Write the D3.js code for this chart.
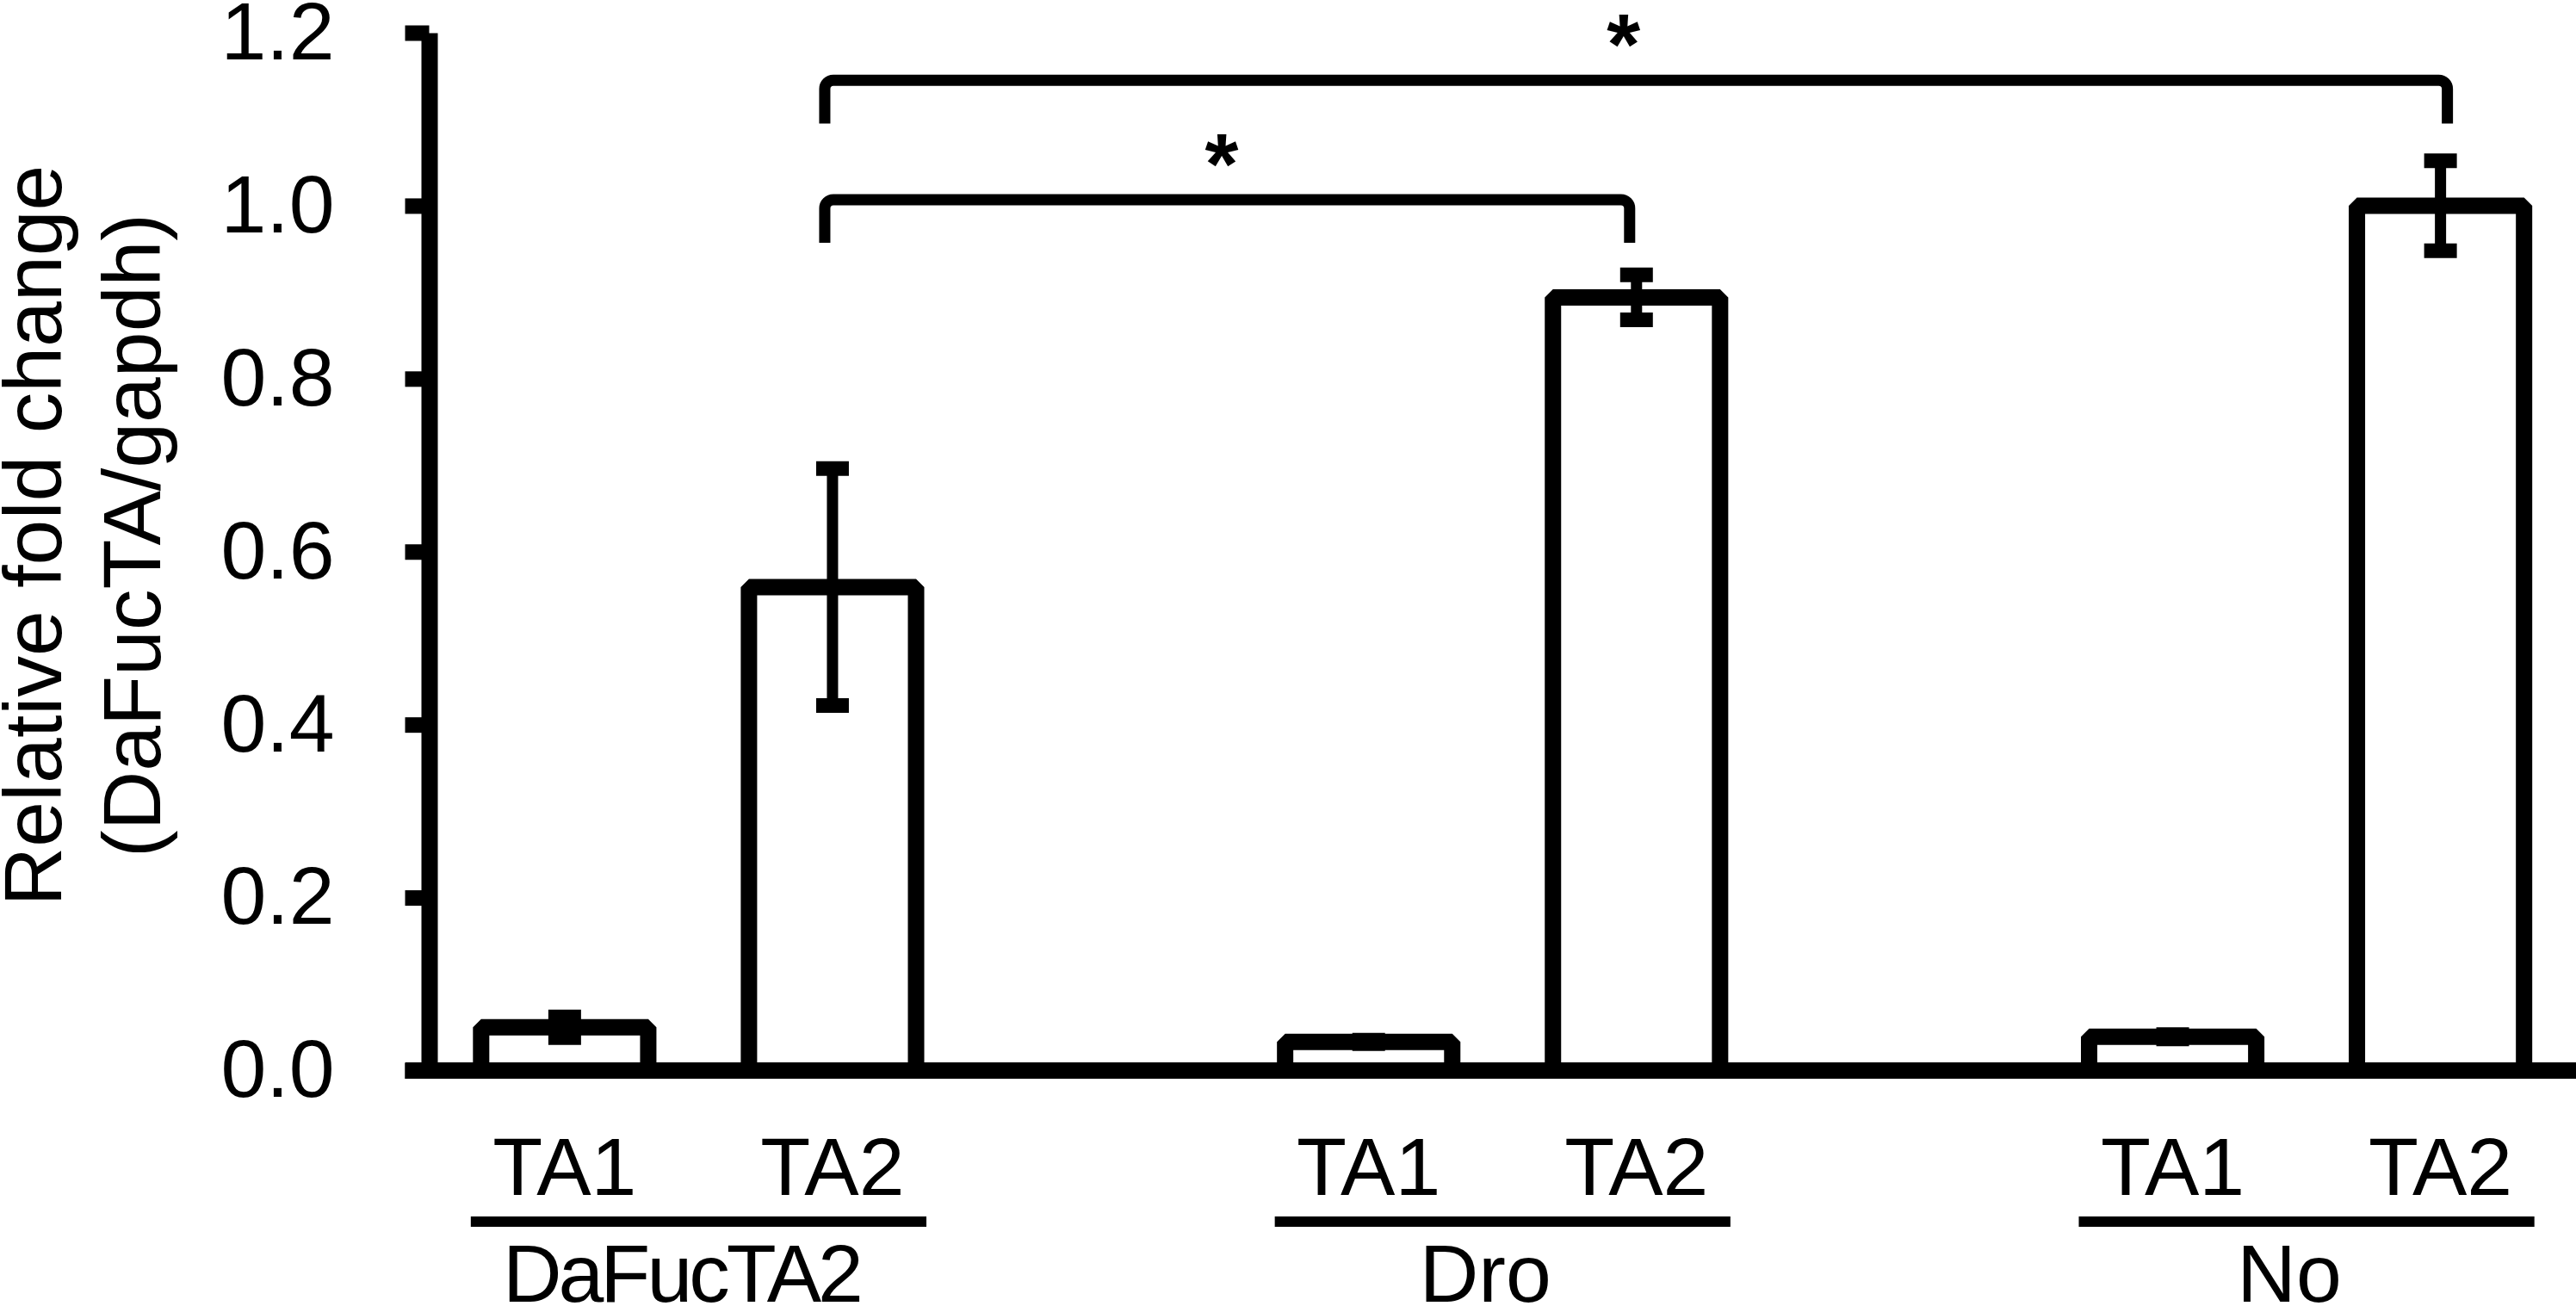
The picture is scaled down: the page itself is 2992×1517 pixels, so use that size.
<!DOCTYPE html>
<html>
<head>
<meta charset="utf-8">
<script src="https://cdn.jsdelivr.net/npm/d3@7"></script>
<style>
  html, body { margin: 0; padding: 0; background: #fff; }
  text { font-family: "Liberation Sans", Arial, sans-serif; fill: #000; }
</style>
</head>
<body>
<div id="viz"></div>
<script>
// values
const groups = ['DaFucTA2', 'Dro', 'No'];
const isoforms = ['TA1', 'TA2'];
const ta1Values = [0.050, 0.033, 0.039];
const ta1Errors = [0.012, 0.002, 0.0025];
const ta2Values = [0.559, 0.894, 1.000];
const ta2Errors = [0.137, 0.026, 0.052];
const yTicks = [0, 0.2, 0.4, 0.6, 0.8, 1.0, 1.2];
const comparisonFrom = ['DaFucTA2', 'DaFucTA2'];
const comparisonTo = ['Dro', 'No'];
const comparisonLevel = [1.007, 1.145];
const comparisonMark = ['*', '*'];
const yTitleLines = ['Relative fold change', '(DaFucTA/gapdh)'];

const width = 2992;
const height = 1517;
const axisX = 498.5;
const fontSize = 95;

const bars = groups.flatMap((g, i) => [
  { group: g, iso: 'TA1', value: ta1Values[i], err: ta1Errors[i] },
  { group: g, iso: 'TA2', value: ta2Values[i], err: ta2Errors[i] },
]);

const svg = d3.select('#viz')
  .append('svg')
  .attr('width', width)
  .attr('height', height)
  .style('display', 'block');

svg.append('rect').attr('width', width).attr('height', height).attr('fill', '#fff');

// scales
const y = d3.scaleLinear().domain([0, 1.2]).range([1243.5, 38]);
const x0 = d3.scaleBand().domain(groups).range([344.5, 3146]).padding(0);
const x1 = d3.scaleBand().domain(isoforms).range([0, x0.bandwidth()])
  .paddingInner(0.376).paddingOuter(0.689);
const barLeft = d => x0(d.group) + x1(d.iso);
const barMid = (g, iso) => x0(g) + x1(iso) + x1.bandwidth() / 2;

// bars
svg.append('g')
  .selectAll('rect')
  .data(bars)
  .join('rect')
  .attr('x', barLeft)
  .attr('y', d => y(d.value))
  .attr('width', x1.bandwidth())
  .attr('height', d => y(0) - y(d.value))
  .attr('fill', '#fff')
  .attr('stroke', '#000')
  .attr('stroke-width', 19)
  .attr('stroke-linejoin', 'bevel');

// error bars
const errG = svg.append('g').attr('stroke', '#000');
errG.selectAll('line.stem')
  .data(bars)
  .join('line')
  .attr('class', 'stem')
  .attr('x1', d => barMid(d.group, d.iso))
  .attr('x2', d => barMid(d.group, d.iso))
  .attr('y1', d => y(d.value - d.err))
  .attr('y2', d => y(d.value + d.err))
  .attr('stroke-width', 13);
const caps = bars.flatMap(d => [
  { d, v: d.value + d.err },
  { d, v: d.value - d.err },
]);
errG.selectAll('line.cap')
  .data(caps)
  .join('line')
  .attr('class', 'cap')
  .attr('x1', c => barMid(c.d.group, c.d.iso) - 19)
  .attr('x2', c => barMid(c.d.group, c.d.iso) + 19)
  .attr('y1', c => y(c.v))
  .attr('y2', c => y(c.v))
  .attr('stroke-width', 17);

// y axis
const yAxis = svg.append('g')
  .attr('transform', `translate(${axisX},0)`)
  .call(d3.axisLeft(y).tickValues(yTicks).tickFormat(d3.format('.1f'))
    .tickSizeInner(28).tickSizeOuter(0).tickPadding(82));
yAxis.select('.domain').attr('stroke', '#000').attr('stroke-width', 19);
yAxis.selectAll('.tick line').attr('stroke', '#000').attr('stroke-width', 18);
yAxis.selectAll('.tick text')
  .attr('font-size', fontSize)
  .attr('font-family', '"Liberation Sans", Arial, sans-serif')
  .attr('fill', '#000');

// x axis baseline
svg.append('line')
  .attr('x1', axisX - 28)
  .attr('x2', width)
  .attr('y1', y(0))
  .attr('y2', y(0))
  .attr('stroke', '#000')
  .attr('stroke-width', 19);

// y title
svg.append('g')
  .attr('transform', `translate(0,622) rotate(-90)`)
  .selectAll('text')
  .data(yTitleLines)
  .join('text')
  .attr('x', 0)
  .attr('y', (d, i) => 71 + i * 115)
  .attr('text-anchor', 'middle')
  .attr('font-size', fontSize)
  .text(d => d);

// isoform labels under the bars
svg.append('g')
  .selectAll('text')
  .data(bars)
  .join('text')
  .attr('x', d => barMid(d.group, d.iso))
  .attr('y', 1388)
  .attr('text-anchor', 'middle')
  .attr('font-size', fontSize)
  .text(d => d.iso);

// group underline and group name
const grpG = svg.append('g');
grpG.selectAll('line')
  .data(groups)
  .join('line')
  .attr('x1', g => x0(g) + x1('TA1') - 12)
  .attr('x2', g => x0(g) + x1('TA2') + x1.bandwidth() + 12)
  .attr('y1', 1419)
  .attr('y2', 1419)
  .attr('stroke', '#000')
  .attr('stroke-width', 12);
grpG.selectAll('text')
  .data(groups)
  .join('text')
  .attr('x', g => x0(g) + x0.bandwidth() / 2 - 20)
  .attr('y', 1512)
  .attr('text-anchor', 'middle')
  .attr('font-size', fontSize)
  .attr('letter-spacing', g => g.length > 4 ? -4 : 0)
  .text(g => g);

// significance brackets
const comparisons = comparisonFrom.map((f, i) => ({
  from: f, to: comparisonTo[i], level: comparisonLevel[i], mark: comparisonMark[i],
}));
const drop = 0.05;
const r = 10;
const brG = svg.append('g');
brG.selectAll('path')
  .data(comparisons)
  .join('path')
  .attr('d', c => {
    const xa = barMid(c.from, 'TA2') - 9;
    const xb = barMid(c.to, 'TA2') + (c.to === 'No' ? 8 : -8);
    const yt = y(c.level);
    const yb = y(c.level - drop);
    const p = d3.path();
    p.moveTo(xa, yb);
    p.lineTo(xa, yt + r);
    p.arcTo(xa, yt, xa + r, yt, r);
    p.lineTo(xb - r, yt);
    p.arcTo(xb, yt, xb, yt + r, r);
    p.lineTo(xb, yb);
    return p.toString();
  })
  .attr('fill', 'none')
  .attr('stroke', '#000')
  .attr('stroke-width', 13);
brG.selectAll('text')
  .data(comparisons)
  .join('text')
  .attr('x', c => (barMid(c.from, 'TA2') + barMid(c.to, 'TA2')) / 2 - 15)
  .attr('y', c => y(c.level) - 7)
  .attr('text-anchor', 'middle')
  .attr('font-size', 100)
  .attr('font-weight', 'bold')
  .text(c => c.mark);
</script>
</body>
</html>
